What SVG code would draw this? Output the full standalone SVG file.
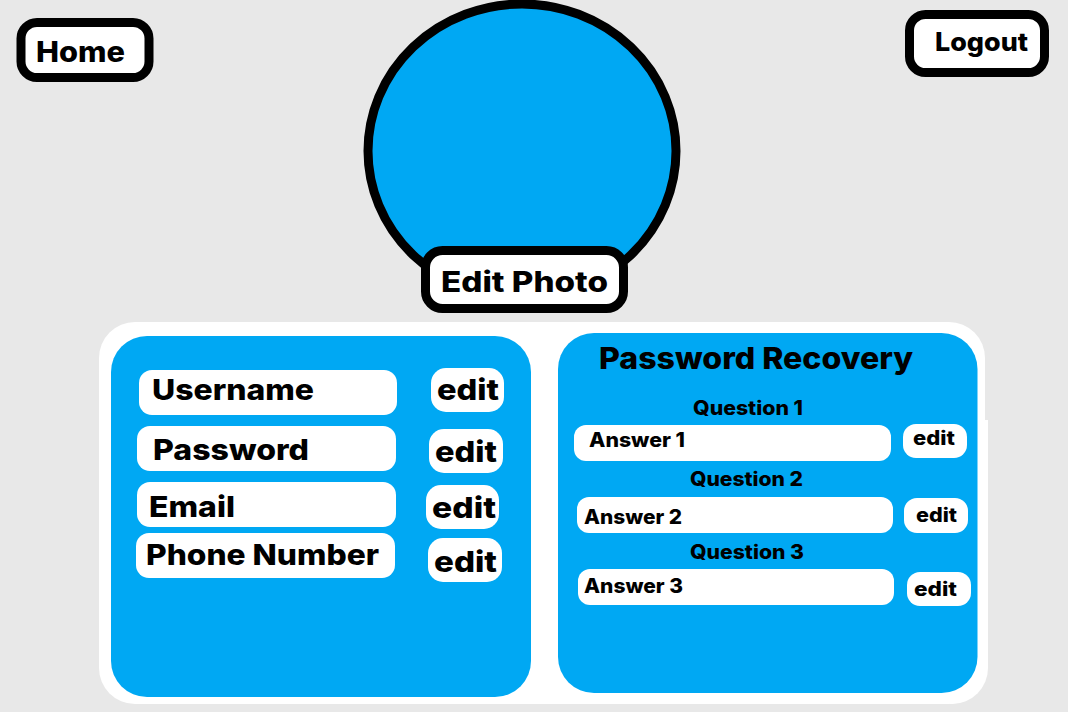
<svg xmlns="http://www.w3.org/2000/svg" width="1068" height="712" viewBox="0 0 1068 712">
<style>
.t{font-family:Inter,"Liberation Sans",sans-serif;font-weight:800;fill:#000}
.btn{fill:#fff;stroke:#000;stroke-width:9}
.blue{fill:#00a8f3}
.fld{fill:#fff}
</style>
<rect width="1068" height="712" fill="#e8e8e8"/>
<g id="home">
<rect class="btn" x="21" y="22.5" width="128" height="55" rx="16"/>
<text class="t" x="36" y="62" font-size="28" textLength="89" lengthAdjust="spacingAndGlyphs">Home</text>
</g>
<g id="logout">
<rect class="btn" x="909.5" y="14.5" width="135" height="58" rx="16"/>
<text class="t" x="935" y="51" font-size="26" textLength="93" lengthAdjust="spacingAndGlyphs">Logout</text>
</g>
<g id="photo">
<ellipse cx="522" cy="151" rx="154" ry="147" fill="#00a8f3" stroke="#000" stroke-width="9"/>
</g>
<g id="edit-photo">
<rect class="btn" x="425.5" y="250.5" width="198" height="58" rx="17"/>
<text class="t" x="441" y="292" font-size="28" textLength="167" lengthAdjust="spacingAndGlyphs">Edit Photo</text>
</g>
<g id="panel">
<rect x="99" y="322" width="886" height="382" rx="36" fill="#fff"/>
<path d="M950,420 H988 V668 A36,36 0 0 1 952,704 H950 Z" fill="#fff"/>
</g>
<g id="account">
<rect class="blue" x="111" y="336" width="420" height="361" rx="36"/>
<g id="username">
<rect class="fld" x="139" y="370" width="258" height="45" rx="13"/>
<text class="t" x="152" y="400" font-size="29" textLength="162" lengthAdjust="spacingAndGlyphs">Username</text>
<rect class="fld" x="431" y="368" width="73" height="44" rx="15"/>
<text class="t" x="437" y="400" font-size="29" textLength="62" lengthAdjust="spacingAndGlyphs">edit</text>
</g>
<g id="password">
<rect class="fld" x="137" y="426" width="259" height="45" rx="13"/>
<text class="t" x="153" y="460" font-size="29" textLength="156" lengthAdjust="spacingAndGlyphs">Password</text>
<rect class="fld" x="429" y="429" width="74" height="44" rx="15"/>
<text class="t" x="435" y="462" font-size="29" textLength="62" lengthAdjust="spacingAndGlyphs">edit</text>
</g>
<g id="email">
<rect class="fld" x="137" y="482" width="259" height="45" rx="13"/>
<text class="t" x="149" y="517" font-size="29" textLength="86" lengthAdjust="spacingAndGlyphs">Email</text>
<rect class="fld" x="426" y="485" width="73" height="44" rx="15"/>
<text class="t" x="432" y="518" font-size="29" textLength="64" lengthAdjust="spacingAndGlyphs">edit</text>
</g>
<g id="phone">
<rect class="fld" x="136" y="533" width="259" height="45" rx="13"/>
<text class="t" x="146" y="565" font-size="29" textLength="233" lengthAdjust="spacingAndGlyphs">Phone Number</text>
<rect class="fld" x="428" y="538" width="74" height="44" rx="15"/>
<text class="t" x="434" y="572" font-size="29" textLength="63" lengthAdjust="spacingAndGlyphs">edit</text>
</g>
</g>
<g id="recovery">
<rect class="blue" x="558" y="333" width="419.5" height="360" rx="36"/>
<text class="t" x="599" y="369" font-size="30" textLength="314" lengthAdjust="spacingAndGlyphs">Password Recovery</text>
<g id="q1">
<text class="t" x="693" y="415" font-size="20" textLength="110" lengthAdjust="spacingAndGlyphs">Question 1</text>
<rect class="fld" x="574" y="425" width="317" height="36" rx="12"/>
<text class="t" x="589" y="447" font-size="20" textLength="96" lengthAdjust="spacingAndGlyphs">Answer 1</text>
<rect class="fld" x="903" y="424" width="64" height="34" rx="13"/>
<text class="t" x="913" y="445" font-size="20" textLength="42" lengthAdjust="spacingAndGlyphs">edit</text>
</g>
<g id="q2">
<text class="t" x="690" y="486" font-size="20" textLength="113" lengthAdjust="spacingAndGlyphs">Question 2</text>
<rect class="fld" x="577" y="497" width="316" height="36" rx="12"/>
<text class="t" x="584" y="524" font-size="20" textLength="98" lengthAdjust="spacingAndGlyphs">Answer 2</text>
<rect class="fld" x="904" y="498" width="64" height="35" rx="13"/>
<text class="t" x="916" y="522" font-size="20" textLength="41" lengthAdjust="spacingAndGlyphs">edit</text>
</g>
<g id="q3">
<text class="t" x="690" y="559" font-size="20" textLength="114" lengthAdjust="spacingAndGlyphs">Question 3</text>
<rect class="fld" x="578" y="569" width="316" height="36" rx="12"/>
<text class="t" x="584" y="593" font-size="20" textLength="99" lengthAdjust="spacingAndGlyphs">Answer 3</text>
<rect class="fld" x="907" y="572" width="64" height="34" rx="13"/>
<text class="t" x="914" y="596" font-size="20" textLength="43" lengthAdjust="spacingAndGlyphs">edit</text>
</g>
</g>
</svg>
